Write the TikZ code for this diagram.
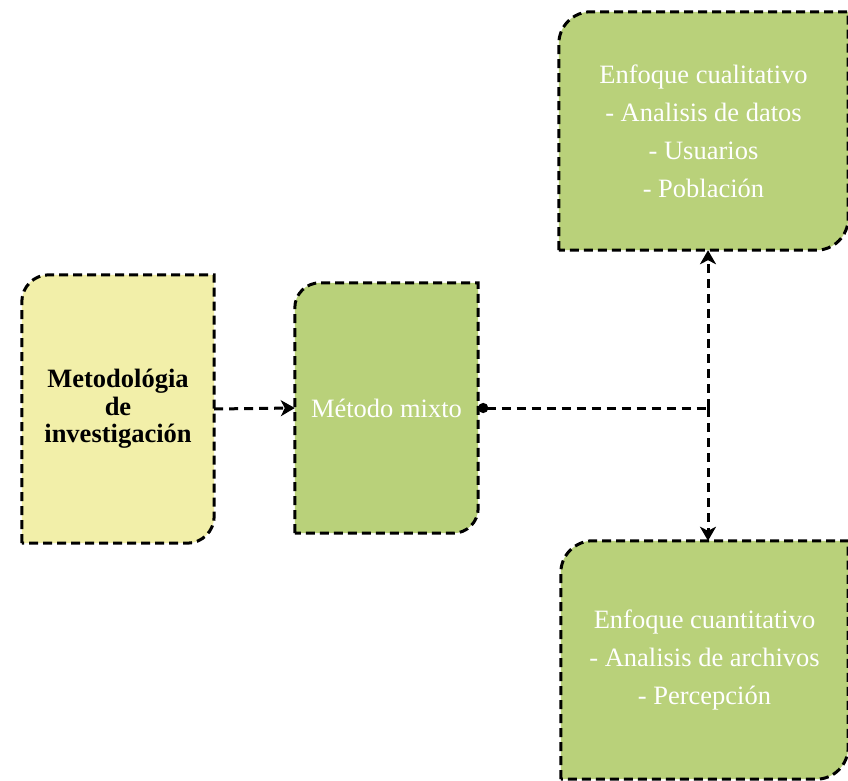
\documentclass[tikz,border=0pt]{standalone}
\usepackage{fontspec}
\setmainfont{Liberation Serif}
\usetikzlibrary{arrows.meta, positioning, backgrounds, calc}
\definecolor{mYellow}{HTML}{F2EFA9}
\definecolor{mGreen}{HTML}{B9D17A}

\begin{document}
\begin{tikzpicture}[x=1pt, y=1pt,
    boxline/.style={draw=black, line width=3pt, dash pattern=on 9pt off 5pt},
    tab/.style={inner sep=0pt, align=center, font=\fontsize{26.5}{38}\selectfont},
    link/.style={line width=3pt, dash pattern=on 9pt off 6pt},
    tip/.style={-{Stealth[length=14pt, width=16pt, inset=4pt]}}]
  \useasboundingbox (0,0) rectangle (848,780);
  % boxes with text
  \node[tab, minimum width=192pt, minimum height=268pt,
        font=\fontsize{26.5}{27.5}\selectfont\bfseries] (meth) at (118,371)
    {Metodológia\\de\\investigación};
  \node[tab, minimum width=183pt, minimum height=250pt, text=white] (mixto) at (386.5,372)
    {Método mixto};
  \node[tab, minimum width=289pt, minimum height=238pt, text=white] (cuali) at (703.5,649)
    {Enfoque cualitativo\\- Analisis de datos\\- Usuarios\\- Población};
  \node[tab, minimum width=287pt, minimum height=238pt, text=white] (cuanti) at (704.5,120)
    {Enfoque cuantitativo\\- Analisis de archivos\\- Percepción};
  % outlines: rounded top left and bottom right corners
  \begin{scope}[on background layer]
    \foreach \n/\c/\r in {meth/mYellow/27, mixto/mGreen/25, cuali/mGreen/32, cuanti/mGreen/32}
      \filldraw[boxline, fill=\c] (\n.south west)
        -- ([yshift=-\r pt]\n.north west) arc[start angle=180, end angle=90, radius=\r pt]
        -- (\n.north east)
        -- ([yshift=\r pt]\n.south east) arc[start angle=0, end angle=-90, radius=\r pt]
        -- cycle;
  \end{scope}
  % connectors
  \coordinate (split) at (708,372);
  \draw[link, tip] (meth.east) -- (mixto.west);
  \draw[link, {Circle[length=10pt]}-] (mixto.east) -- (split);
  \draw[link, tip] (split) -- (split |- cuali.south);
  \draw[link, tip] (split) -- (split |- cuanti.north);
\end{tikzpicture}
\end{document}
